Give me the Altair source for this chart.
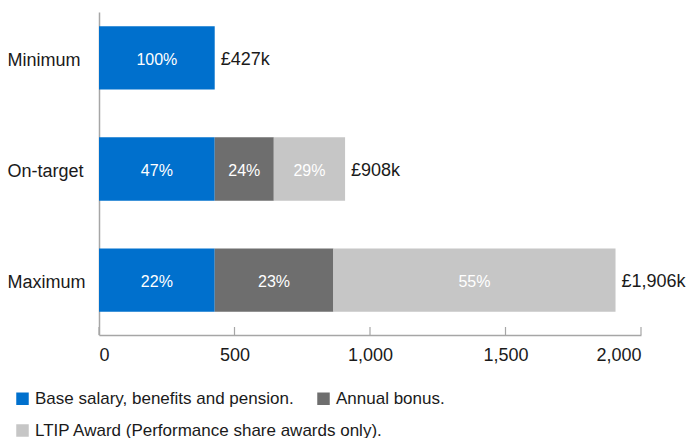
import altair as alt
import pandas as pd

# Remuneration scenarios (£000s)
scenarios = ["Minimum", "On-target", "Maximum"]
components = [
    "Base salary, benefits and pension.",
    "Annual bonus.",
    "LTIP Award (Performance share awards only).",
]
base_salary = [427, 427, 427]
annual_bonus = [0, 218, 438]
ltip_award = [0, 263, 1041]
x_ticks = [0, 500, 1000, 1500, 2000]
colors = ["#0070cd", "#6e6e6e", "#c6c6c6"]

FONT = "Liberation Sans"
TEXT = "#1a1a1a"
AXIS_GREY = "#a6a6a6"

rows = []
series = [base_salary, annual_bonus, ltip_award]
for i, s in enumerate(scenarios):
    for j, comp in enumerate(components):
        v = series[j][i]
        if v > 0:
            rows.append({"scenario": s, "component": comp, "order": j, "value": v})
df = pd.DataFrame(rows)

y_enc = alt.Y(
    "scenario:N",
    sort=scenarios,
    title=None,
    scale=alt.Scale(paddingInner=0.43, paddingOuter=0.168, align=0.38),
    axis=alt.Axis(
        ticks=False,
        tickSize=0,
        labelAlign="left",
        labelPadding=92,
        labelOffset=3,
        labelFontSize=18,
        labelColor=TEXT,
        labelFont=FONT,
        domainColor=AXIS_GREY,
        domainWidth=1.5,
        grid=False,
    ),
)
x_enc = alt.X(
    "x0:Q",
    title=None,
    scale=alt.Scale(domain=[0, 2000], nice=False),
    axis=alt.Axis(
        values=x_ticks,
        format=",.0f",
        ticks=False,
        tickSize=0,
        labelPadding=11,
        labelFontSize=18,
        labelColor=TEXT,
        labelFont=FONT,
        domainColor=AXIS_GREY,
        domainWidth=1.5,
        grid=False,
    ),
)

stacked = (
    alt.Chart(df)
    .transform_joinaggregate(total="sum(value)", groupby=["scenario"])
    .transform_stack(
        stack="value",
        groupby=["scenario"],
        as_=["x0", "x1"],
        sort=[alt.SortField("order", order="ascending")],
    )
    .transform_calculate(
        mid="(datum.x0 + datum.x1) / 2",
        pct="format(datum.value / datum.total, '.0%')",
    )
)

legend_style = dict(
    orient="none",
    direction="horizontal",
    title=None,
    symbolType="square",
    symbolSize=156,
    symbolStrokeWidth=0,
    labelFontSize=17,
    labelFont=FONT,
    labelColor=TEXT,
    labelOffset=4,
    labelLimit=500,
    columnPadding=21,
    padding=0,
    legendX=-85,
)

cash_bars = (
    stacked.transform_filter("datum.order < 2")
    .mark_bar()
    .encode(
        y=y_enc,
        x=x_enc,
        x2="x1:Q",
        color=alt.Color(
            "component:N",
            scale=alt.Scale(domain=components[:2], range=colors[:2]),
            legend=alt.Legend(legendY=378, **legend_style),
        ),
    )
)

ltip_bars = (
    stacked.transform_filter("datum.order == 2")
    .mark_bar()
    .encode(
        y=alt.Y("scenario:N", sort=scenarios),
        x=alt.X("x0:Q"),
        x2="x1:Q",
        color=alt.Color(
            "component:N",
            scale=alt.Scale(domain=components[2:], range=colors[2:]),
            legend=alt.Legend(legendY=410, **legend_style),
        ),
    )
)

pct_labels = stacked.mark_text(
    color="white", fontSize=16, font=FONT, dy=2
).encode(
    y=alt.Y("scenario:N", sort=scenarios),
    x=alt.X("mid:Q"),
    text="pct:N",
)

total_labels = (
    alt.Chart(df)
    .transform_aggregate(total="sum(value)", groupby=["scenario"])
    .transform_calculate(label="'£' + format(datum.total, ',') + 'k'")
    .mark_text(align="left", dx=6, dy=2, fontSize=18, font=FONT, color=TEXT)
    .encode(
        y=alt.Y("scenario:N", sort=scenarios),
        x=alt.X("total:Q"),
        text="label:N",
    )
)

# inward-pointing ticks on the value axis
tick_marks = (
    alt.Chart(pd.DataFrame({"tick": x_ticks}))
    .mark_rule(color=AXIS_GREY, strokeWidth=1.2)
    .encode(x=alt.X("tick:Q"), y=alt.value(315), y2=alt.value(323))
)

chart = (
    alt.layer(cash_bars, ltip_bars, pct_labels, total_labels, tick_marks)
    .resolve_scale(color="independent")
    .properties(
        width=542,
        height=323,
        autosize=alt.AutoSizeParams(type="none"),
        padding={"left": 99, "top": 12, "right": 47, "bottom": 103},
    )
    .configure(font=FONT)
    .configure_view(strokeWidth=0, stroke="transparent")
)

chart.save("out.html", embed_options={"renderer": "svg", "actions": False})
